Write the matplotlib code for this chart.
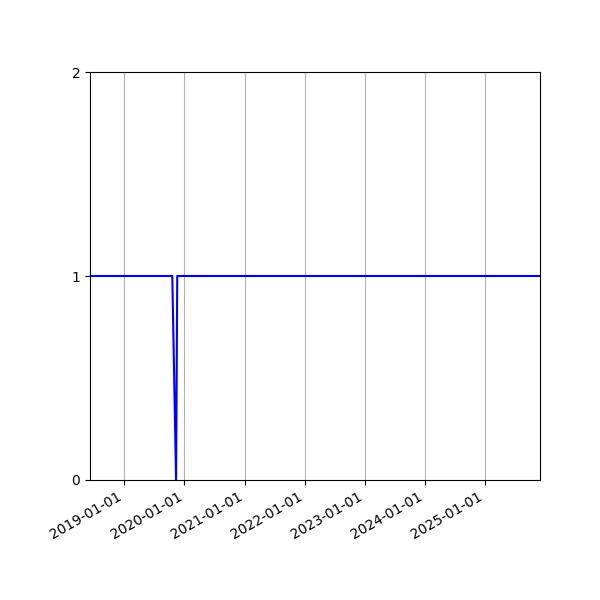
import numpy as np
import pandas as pd
import matplotlib
matplotlib.use('Agg')
import matplotlib.pyplot as plt
import matplotlib.dates as mdates

# status series
dates = pd.to_datetime(['2018-06-07', '2019-10-20', '2019-11-12',
                        '2019-11-19', '2025-12-01'])
status = [1, 1, 0, 1, 1]


def main():
    fig, ax = plt.subplots(figsize=(6, 6), dpi=100)
    ax.plot(dates, status, color='blue', linewidth=1.5)
    ax.set_xlim(dates[0], dates[-1])
    ax.set_ylim(0, 2)
    ax.set_yticks([0, 1, 2])
    ax.xaxis.set_major_locator(mdates.YearLocator())
    ax.xaxis.set_major_formatter(mdates.DateFormatter('%Y-%m-%d'))
    ax.grid(axis='x')
    fig.autofmt_xdate()
    fig.subplots_adjust(left=0.15)
    fig.savefig('out.png')


main()
